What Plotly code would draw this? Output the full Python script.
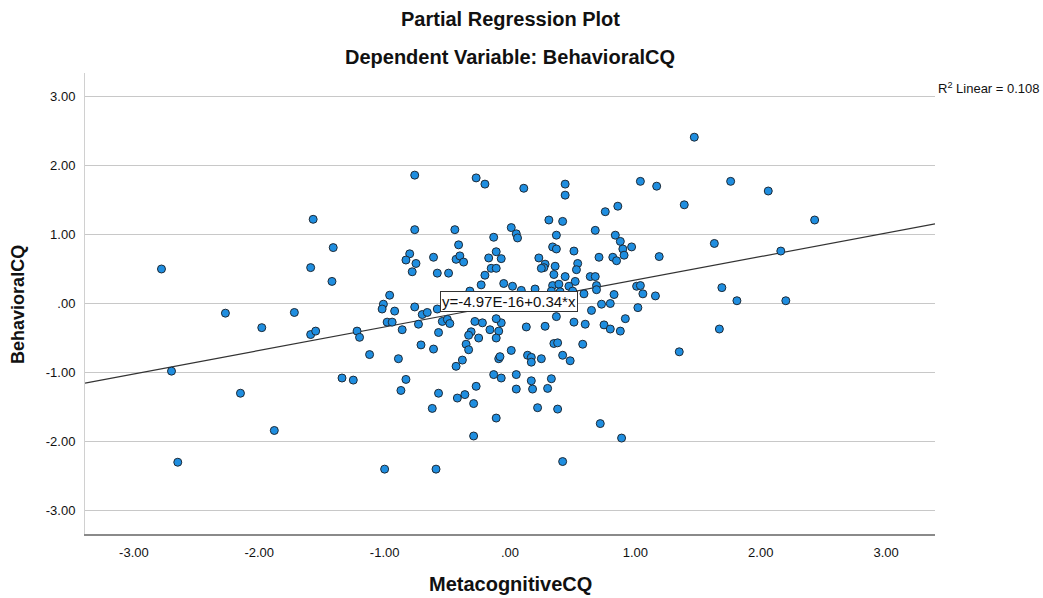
import plotly.graph_objects as go

# MetacognitiveCQ (x) and BehavioralCQ (y) partial residuals
x_vals = [
    -2.78, -2.70, -2.65, -2.27, -2.15, -1.98, -1.88, -1.72, -1.57, -1.59, -1.59, -1.55, -1.41, -1.42,
    -0.76, -0.76, -0.44, -0.80, -0.83, -0.75, -0.78, -0.61, -0.58, -0.49, -0.41, -0.43, -0.40, -0.96,
    -1.22, -1.20, -1.12, -1.34, -1.25, -1.01, -1.02, -0.92, -0.98, -0.94, -0.86, -0.76, -0.70, -0.66,
    -0.58, -0.73, -0.54, -0.50, -0.48, -0.57, -0.71, -0.61, -0.89, -0.43, -0.83, -0.87, -0.57, -0.62,
    -0.42, -1.00, -0.59, 0.42,
    -0.27, -0.20, 0.11, 0.44, 0.44, 0.31, 0.42, 0.01, 0.05, 0.06, -0.13, 0.37, -0.37, -0.11, -0.17,
    -0.07, -0.15, -0.11, -0.20, -0.23, -0.05, 0.02, -0.32, 0.09, 0.20, 0.34, 0.37, 0.51, 0.23, 0.28,
    0.27, 0.36, 0.35, 0.44, 0.54, 0.53, 0.52, 0.34, 0.39, 0.47, 0.33, 0.40, 0.50, 0.25,
    -0.28, -0.22, -0.16, -0.09, -0.07, -0.11, -0.31, -0.33, -0.25, -0.11, 0.13, 0.28, 0.37, 0.51,
    -0.35, -0.33, 0.01, 0.35, 0.38, -0.38, -0.09, -0.08, 0.14, 0.17, 0.17, 0.25, 0.42, 0.48,
    -0.13, -0.07, 0.05, 0.17, 0.33, -0.27, -0.36, -0.29, 0.05, 0.18, 0.30, 0.22, 0.38, -0.11, -0.29,
    1.04, 1.17, 1.39, 0.76, 0.86, 0.68, 0.84, 0.88, 0.90, 0.97, 0.71, 0.82, 0.85, 0.91, 1.19,
    0.64, 0.68, 0.69, 0.69, 0.59, 0.83, 1.01, 1.04, 1.06, 1.16,
    0.65, 0.73, 0.80, 1.02, 0.60, 0.75, 0.80, 0.88, 0.92, 0.58, 1.35, 0.72, 0.89,
    1.47, 1.76, 2.06, 2.43, 1.63, 2.16, 1.69, 1.81, 2.20, 1.67,
]
y_vals = [
    0.50, -0.98, -2.30, -0.14, -1.30, -0.35, -1.84, -0.13, 1.22, 0.52, -0.45, -0.40, 0.81, 0.32,
    1.86, 1.07, 1.07, 0.72, 0.63, 0.58, 0.46, 0.67, 0.44, 0.44, 0.85, 0.64, 0.69, 0.12,
    -0.40, -0.49, -0.74, -1.08, -1.11, -0.01, -0.08, -0.11, -0.27, -0.27, -0.38, -0.05, -0.16, -0.13,
    -0.08, -0.30, -0.26, -0.23, -0.29, -0.42, -0.60, -0.66, -0.80, -0.91, -1.10, -1.26, -1.30, -1.52,
    -1.37, -2.40, -2.40, -2.29,
    1.82, 1.73, 1.67, 1.73, 1.57, 1.21, 1.19, 1.10, 1.01, 0.95, 0.96, 0.99, 0.60, 0.75, 0.66,
    0.65, 0.51, 0.51, 0.41, 0.27, 0.29, 0.25, 0.18, 0.19, 0.21, 0.82, 0.79, 0.76, 0.66, 0.57,
    0.52, 0.54, 0.42, 0.39, 0.58, 0.49, 0.32, 0.26, 0.28, 0.25, 0.18, 0.17, 0.18, 0.51,
    -0.26, -0.28, -0.38, -0.40, -0.28, -0.22, -0.41, -0.46, -0.50, -0.50, -0.34, -0.33, -0.19, -0.27,
    -0.59, -0.67, -0.68, -0.58, -0.57, -0.82, -0.80, -0.77, -0.75, -0.78, -0.85, -0.80, -0.75, -0.83,
    -1.03, -1.08, -1.03, -1.12, -1.09, -1.20, -1.32, -1.45, -1.24, -1.24, -1.23, -1.51, -1.53, -1.66, -1.92,
    1.77, 1.70, 1.43, 1.33, 1.41, 1.06, 0.99, 0.90, 0.79, 0.82, 0.67, 0.67, 0.62, 0.70, 0.68,
    0.39, 0.39, 0.26, 0.20, 0.14, 0.13, 0.25, 0.26, 0.14, 0.11,
    -0.10, -0.01, 0.00, -0.06, -0.30, -0.31, -0.37, -0.40, -0.22, -0.59, -0.70, -1.74, -1.95,
    2.41, 1.77, 1.63, 1.21, 0.87, 0.76, 0.23, 0.04, 0.04, -0.37,
]

intercept = -4.97e-16
slope = 0.34
r2 = 0.108
x_range = [-3.39, 3.39]
y_range = [-3.34, 3.34]
tick_vals = [-3, -2, -1, 0, 1, 2, 3]
tick_text = ["-3.00", "-2.00", "-1.00", ".00", "1.00", "2.00", "3.00"]

FONT = "Liberation Sans, Arial, sans-serif"
INK = "#111111"

fig = go.Figure()
fig.add_trace(go.Scatter(
    x=x_range, y=[intercept + slope * v for v in x_range],
    mode="lines", line=dict(color="#333333", width=1.2),
    hoverinfo="skip", showlegend=False,
))
fig.add_trace(go.Scatter(
    x=x_vals, y=y_vals, mode="markers",
    marker=dict(size=8, color="#1f8ee0", line=dict(color="#1e2a36", width=1)),
    showlegend=False,
))

fig.add_annotation(
    x=-0.56, y=0.035, xref="x", yref="y", xanchor="left", yanchor="middle",
    text="y=-4.97E-16+0.34*x", showarrow=False,
    font=dict(family=FONT, size=15, color=INK),
    bgcolor="white", bordercolor="#333333", borderwidth=1, borderpad=1,
)
fig.add_annotation(
    x=1.001, y=0.968, xref="paper", yref="paper", xanchor="left", yanchor="middle",
    text="R<sup>2</sup> Linear = 0.108", showarrow=False,
    font=dict(family=FONT, size=13, color=INK),
)
fig.add_annotation(
    x=0.5, y=1.117, xref="paper", yref="paper", xanchor="center", yanchor="middle",
    text="<b>Partial Regression Plot</b>", showarrow=False,
    font=dict(family=FONT, size=20, color=INK),
)
fig.add_annotation(
    x=0.5, y=1.035, xref="paper", yref="paper", xanchor="center", yanchor="middle",
    text="<b>Dependent Variable: BehavioralCQ</b>", showarrow=False,
    font=dict(family=FONT, size=20, color=INK),
)
fig.add_annotation(
    x=0.5, y=-0.1085, xref="paper", yref="paper", xanchor="center", yanchor="middle",
    text="<b>MetacognitiveCQ</b>", showarrow=False,
    font=dict(family=FONT, size=20, color=INK),
)
fig.add_annotation(
    x=-0.0788, y=0.497, xref="paper", yref="paper", xanchor="center", yanchor="middle",
    text="<b>BehavioralCQ</b>", showarrow=False, textangle=-90,
    font=dict(family=FONT, size=18, color=INK),
)

fig.update_layout(
    width=1043, height=598,
    margin=dict(l=85, r=108, t=73, b=64),
    paper_bgcolor="white", plot_bgcolor="white",
    font=dict(family=FONT, color=INK),
)
fig.update_xaxes(
    range=x_range, tickvals=tick_vals, ticktext=tick_text,
    showgrid=False, zeroline=False, showline=True, linecolor="#8a8a8a", linewidth=1.5,
    ticks="", ticklabelstandoff=6, tickfont=dict(family=FONT, size=13, color=INK),
)
fig.update_yaxes(
    range=y_range, tickvals=tick_vals, ticktext=tick_text,
    showgrid=True, gridcolor="#c8c8c8", gridwidth=1.2, zeroline=False,
    showline=True, linecolor="#d0d0d0", linewidth=1,
    ticks="", ticklabelstandoff=6, tickfont=dict(family=FONT, size=13, color=INK),
)

fig.write_html("out.html")
